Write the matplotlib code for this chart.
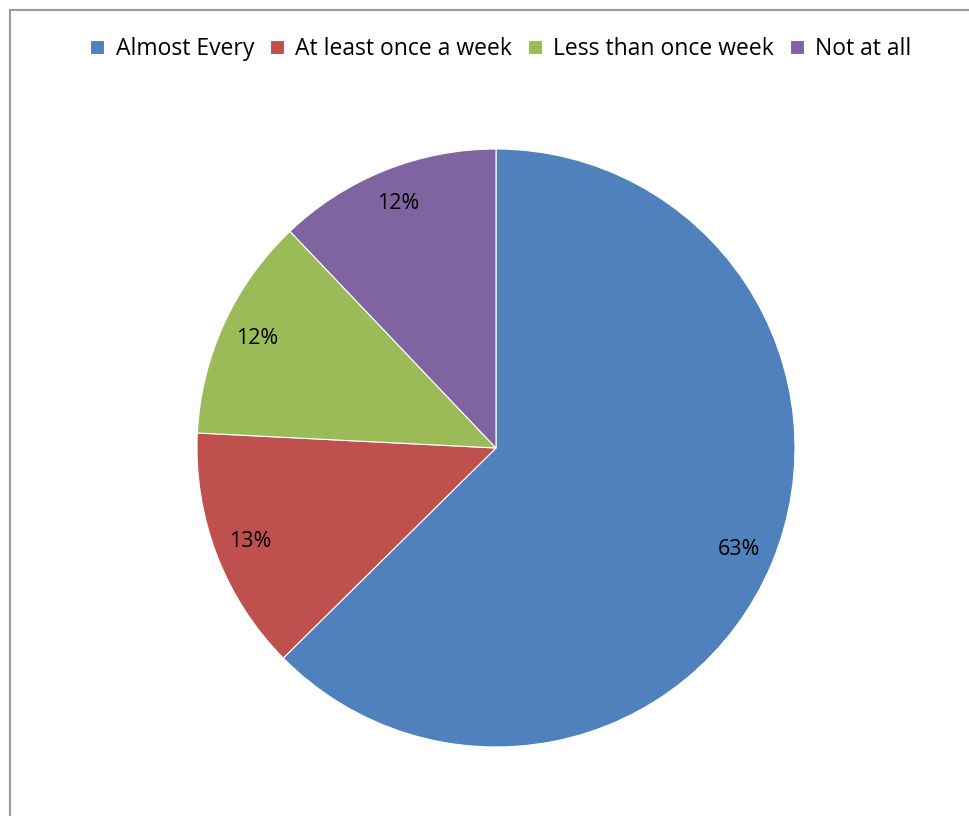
import matplotlib
matplotlib.use('Agg')
import matplotlib.pyplot as plt
from matplotlib.lines import Line2D

categories = ['Almost Every', 'At least once a week', 'Less than once week', 'Not at all']
shares = [62.6, 13.2, 12.1, 12.1]
colors = ['#4F81BD', '#C0504D', '#9BBB59', '#8064A2']

W, H = 969, 816
fig = plt.figure(figsize=(W / 100, H / 100), dpi=100)
plt.rcParams['font.family'] = ['Open Sans', 'DejaVu Sans']

# pie centre (496, 448) px, radius 299 px
cx, cy, r = 496, 448, 299
ax = fig.add_axes([(cx - r) / W, (H - cy - r) / H, 2 * r / W, 2 * r / H])
wedges, texts, autotexts = ax.pie(shares, colors=colors, startangle=90, counterclock=False,
                                  autopct=lambda p: '%d%%' % round(p), pctdistance=0.88,
                                  wedgeprops=dict(edgecolor='white', linewidth=0.8),
                                  textprops=dict(fontsize=15.5, color='black'))
ax.set_xlim(-1, 1)
ax.set_ylim(-1, 1)

fig.legend(wedges, categories, loc='center', bbox_to_anchor=(0.517, 1 - 49 / H), ncol=4,
           frameon=False, fontsize=16.5, handlelength=0.6, handleheight=0.6, handletextpad=0.5,
           columnspacing=0.7)

# outer frame (cut off at right and bottom)
fig.add_artist(Line2D([10 / W, 1], [1 - 10 / H, 1 - 10 / H], color='#9a9a9a', lw=1.5))
fig.add_artist(Line2D([10 / W, 10 / W], [0, 1 - 10 / H], color='#9a9a9a', lw=1.5))

fig.savefig('out.png', dpi=100)
